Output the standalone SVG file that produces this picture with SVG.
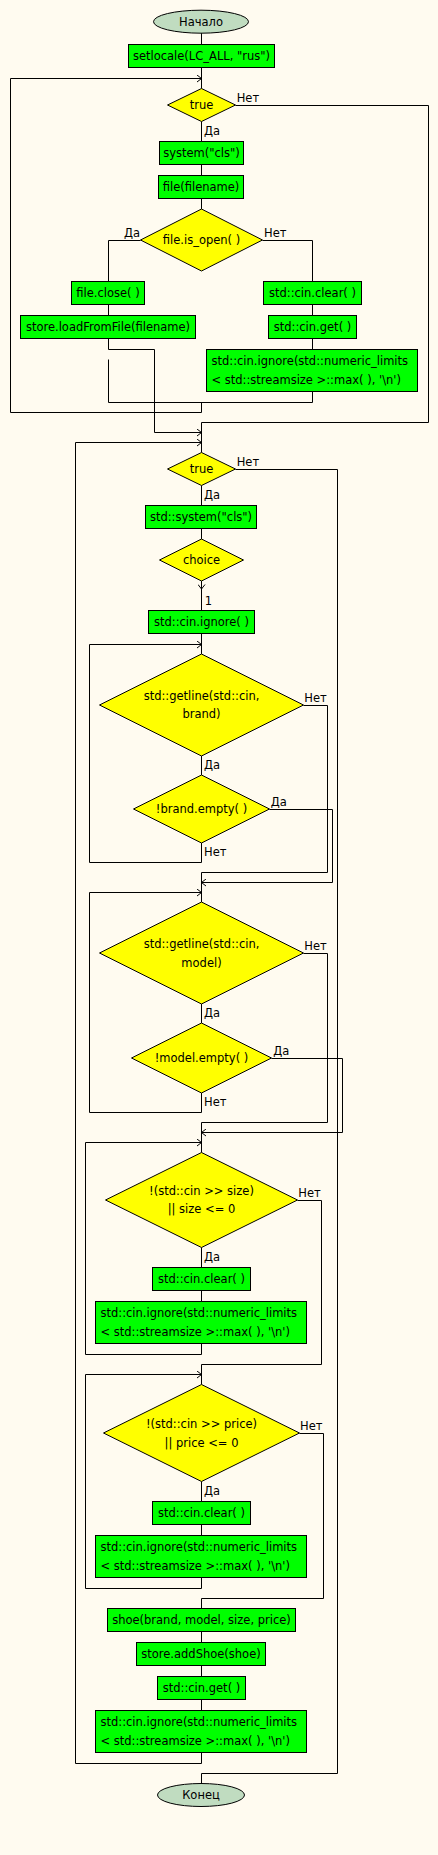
<svg xmlns="http://www.w3.org/2000/svg" width="438" height="1855" viewBox="0 0 438 1855">
<style>
text{font-family:"DejaVu Sans","Liberation Sans",sans-serif;font-size:11.5px;fill:#000}
.c{text-anchor:middle}
.p{fill:#00ff00;stroke:#000;stroke-width:1}
.d{fill:#ffff00;stroke:#000;stroke-width:1}
.t{fill:#c0dcc0;stroke:#000;stroke-width:1}
.l{fill:none;stroke:#000;stroke-width:1}
</style>
<defs>
<marker id="a" markerUnits="userSpaceOnUse" markerWidth="8" markerHeight="8" refX="6" refY="4" orient="auto">
<path d="M1.5,0.5 L6,4 L1.5,7.5" fill="none" stroke="#000" stroke-width="1"/>
</marker>
</defs>
<rect width="438" height="1855" fill="#fffbf0"/>
<g id="connectors" class="l">
<path class="l" d="M201.5,33 V44.5"/>
<path class="l" d="M201.5,67.5 V88.5"/>
<path class="l" d="M201.5,402.5 V412.5 H10.5 V78.5 H201.5" marker-end="url(#a)"/>
<path class="l" d="M235.5,105.5 H428.5 V422.5 H201.5 V452.5"/>
<path class="l" d="M201.5,121.5 V141.5"/>
<path class="l" d="M201.5,164.5 V175.5"/>
<path class="l" d="M201.5,198.5 V209"/>
<path class="l" d="M140.5,240.5 H108.5 V281.5"/>
<path class="l" d="M262.5,240.5 H312.5 V281.5"/>
<path class="l" d="M108.5,304.5 V315.5"/>
<path class="l" d="M312.5,304.5 V315.5"/>
<path class="l" d="M312.5,338.5 V349.5"/>
<path class="l" d="M108.5,338.5 V349.5 H154.5 V432.5 H201.5" marker-end="url(#a)"/>
<path class="l" d="M108.5,359.5 V402.5 H312.5 V391.5"/>
<path class="l" d="M201.5,1752.5 V1763.5 H75.5 V442.5 H201.5" marker-end="url(#a)"/>
<path class="l" d="M235.5,469.5 H337.5 V1773.5 H201.5 V1783.5"/>
<path class="l" d="M201.5,485.5 V505.5"/>
<path class="l" d="M201.5,528.5 V539"/>
<path class="l" d="M201.5,581 V589" marker-end="url(#a)"/>
<path class="l" d="M201.5,589 V610.5"/>
<path class="l" d="M201.5,633.5 V654"/>
<path class="l" d="M201.5,843 V862.5 H89.5 V644.5 H201.5" marker-end="url(#a)"/>
<path class="l" d="M303.5,705.5 H327.5 V872.5 H201.5"/>
<path class="l" d="M201.5,756 V775"/>
<path class="l" d="M269.5,809.5 H332.5 V882.5 H201.5" marker-end="url(#a)"/>
<path class="l" d="M201.5,872.5 V902"/>
<path class="l" d="M201.5,1093 V1112.5 H89.5 V892.5 H201.5" marker-end="url(#a)"/>
<path class="l" d="M303.5,953.5 H327.5 V1122.5 H201.5"/>
<path class="l" d="M201.5,1004 V1023"/>
<path class="l" d="M271.5,1058.5 H342.5 V1132.5 H201.5" marker-end="url(#a)"/>
<path class="l" d="M201.5,1122.5 V1152.5"/>
<path class="l" d="M201.5,1343.5 V1354.5 H85.5 V1142.5 H201.5" marker-end="url(#a)"/>
<path class="l" d="M297.5,1200.5 H321.5 V1364.5 H201.5"/>
<path class="l" d="M201.5,1247.5 V1267.5"/>
<path class="l" d="M201.5,1290.5 V1301.5"/>
<path class="l" d="M201.5,1364.5 V1384.5"/>
<path class="l" d="M201.5,1577.5 V1588.5 H85.5 V1374.5 H201.5" marker-end="url(#a)"/>
<path class="l" d="M299.5,1433.5 H323.5 V1598.5 H201.5 V1608.5"/>
<path class="l" d="M201.5,1481.5 V1501.5"/>
<path class="l" d="M201.5,1524.5 V1535.5"/>
<path class="l" d="M201.5,1631.5 V1642.5"/>
<path class="l" d="M201.5,1665.5 V1676.5"/>
<path class="l" d="M201.5,1699.5 V1710.5"/>
</g>
<g id="labels">
<text x="236.7" y="102">Нет</text>
<text x="204" y="135">Да</text>
<text x="124" y="237">Да</text>
<text x="264" y="237">Нет</text>
<text x="236.7" y="466">Нет</text>
<text x="204" y="499">Да</text>
<text x="204.7" y="605">1</text>
<text x="304.3" y="702">Нет</text>
<text x="204" y="769">Да</text>
<text x="270.7" y="806">Да</text>
<text x="204" y="856">Нет</text>
<text x="304.3" y="950">Нет</text>
<text x="204" y="1017">Да</text>
<text x="273.3" y="1055">Да</text>
<text x="204" y="1106">Нет</text>
<text x="298.3" y="1197">Нет</text>
<text x="204" y="1261">Да</text>
<text x="300" y="1430">Нет</text>
<text x="204" y="1495">Да</text>
</g>
<g id="start"><ellipse class="t" cx="201" cy="21.7" rx="47.5" ry="11.5"/><text class="c" x="201" y="26">Начало</text></g>
<g id="setlocale"><rect class="p" x="128.5" y="44.5" width="146" height="23"/><text class="c" x="201.5" y="60">setlocale(LC_ALL, "rus")</text></g>
<g id="while1"><polygon class="d" points="201.5,88.5 235.5,105 201.5,121.5 167.5,105"/><text class="c" x="201.5" y="109">true</text></g>
<g id="system1"><rect class="p" x="159.5" y="141.5" width="84" height="23"/><text class="c" x="201.5" y="157">system("cls")</text></g>
<g id="file"><rect class="p" x="158.5" y="175.5" width="85" height="23"/><text class="c" x="201" y="191">file(filename)</text></g>
<g id="isopen"><polygon class="d" points="201.5,209 262.5,240 201.5,271 140.5,240"/><text class="c" x="201.5" y="244">file.is_open( )</text></g>
<g id="fileclose"><rect class="p" x="71.5" y="281.5" width="73" height="23"/><text class="c" x="108" y="297">file.close( )</text></g>
<g id="clear1"><rect class="p" x="263.5" y="281.5" width="98" height="23"/><text class="c" x="312.5" y="297">std::cin.clear( )</text></g>
<g id="load"><rect class="p" x="20.5" y="315.5" width="175" height="23"/><text class="c" x="108" y="331">store.loadFromFile(filename)</text></g>
<g id="get1"><rect class="p" x="268.5" y="315.5" width="88" height="23"/><text class="c" x="312.5" y="331">std::cin.get( )</text></g>
<g id="ignore1"><rect class="p" x="206.5" y="349.5" width="211" height="42"/><text x="211.5" y="365">std::cin.ignore(std::numeric_limits</text><text x="211.5" y="384">&lt; std::streamsize &gt;::max( ), '\n')</text></g>
<g id="while2"><polygon class="d" points="201.5,452.5 235.5,469 201.5,485.5 167.5,469"/><text class="c" x="201.5" y="473">true</text></g>
<g id="system2"><rect class="p" x="145.5" y="505.5" width="111" height="23"/><text class="c" x="201" y="521">std::system("cls")</text></g>
<g id="choice"><polygon class="d" points="201.5,539 243.5,560 201.5,581 159.5,560"/><text class="c" x="201.5" y="564">choice</text></g>
<g id="cinignore"><rect class="p" x="148.5" y="610.5" width="106" height="23"/><text class="c" x="201.5" y="626">std::cin.ignore( )</text></g>
<g id="getbrand"><polygon class="d" points="201.5,654 303.5,705 201.5,756 99.5,705"/><text class="c" x="201.5" y="700">std::getline(std::cin,</text><text class="c" x="201.5" y="718">brand)</text></g>
<g id="brandempty"><polygon class="d" points="201.5,775 269.5,809 201.5,843 133.5,809"/><text class="c" x="201.5" y="813">!brand.empty( )</text></g>
<g id="getmodel"><polygon class="d" points="201.5,902 303.5,953 201.5,1004 99.5,953"/><text class="c" x="201.5" y="948">std::getline(std::cin,</text><text class="c" x="201.5" y="967">model)</text></g>
<g id="modelempty"><polygon class="d" points="201.5,1023 271.5,1058 201.5,1093 131.5,1058"/><text class="c" x="201.5" y="1062">!model.empty( )</text></g>
<g id="sizecheck"><polygon class="d" points="201.5,1152.5 297.5,1200 201.5,1247.5 105.5,1200"/><text class="c" x="201.5" y="1195">!(std::cin &gt;&gt; size)</text><text class="c" x="201.5" y="1213">|| size &lt;= 0</text></g>
<g id="clear2"><rect class="p" x="152.5" y="1267.5" width="98" height="23"/><text class="c" x="201.5" y="1283">std::cin.clear( )</text></g>
<g id="ignore2"><rect class="p" x="95.5" y="1301.5" width="211" height="42"/><text x="100.5" y="1317">std::cin.ignore(std::numeric_limits</text><text x="100.5" y="1336">&lt; std::streamsize &gt;::max( ), '\n')</text></g>
<g id="pricecheck"><polygon class="d" points="201.5,1384.5 299.5,1433 201.5,1481.5 103.5,1433"/><text class="c" x="201.5" y="1428">!(std::cin &gt;&gt; price)</text><text class="c" x="201.5" y="1447">|| price &lt;= 0</text></g>
<g id="clear3"><rect class="p" x="152.5" y="1501.5" width="98" height="23"/><text class="c" x="201.5" y="1517">std::cin.clear( )</text></g>
<g id="ignore3"><rect class="p" x="95.5" y="1535.5" width="211" height="42"/><text x="100.5" y="1551">std::cin.ignore(std::numeric_limits</text><text x="100.5" y="1570">&lt; std::streamsize &gt;::max( ), '\n')</text></g>
<g id="shoe"><rect class="p" x="107.5" y="1608.5" width="188" height="23"/><text class="c" x="201.5" y="1624">shoe(brand, model, size, price)</text></g>
<g id="addshoe"><rect class="p" x="136.5" y="1642.5" width="129" height="23"/><text class="c" x="201" y="1658">store.addShoe(shoe)</text></g>
<g id="get2"><rect class="p" x="157.5" y="1676.5" width="88" height="23"/><text class="c" x="201.5" y="1692">std::cin.get( )</text></g>
<g id="ignore4"><rect class="p" x="95.5" y="1710.5" width="211" height="42"/><text x="100.5" y="1726">std::cin.ignore(std::numeric_limits</text><text x="100.5" y="1745">&lt; std::streamsize &gt;::max( ), '\n')</text></g>
<g id="end"><ellipse class="t" cx="201" cy="1795" rx="43.5" ry="11.5"/><text class="c" x="201" y="1799">Конец</text></g>
</svg>
